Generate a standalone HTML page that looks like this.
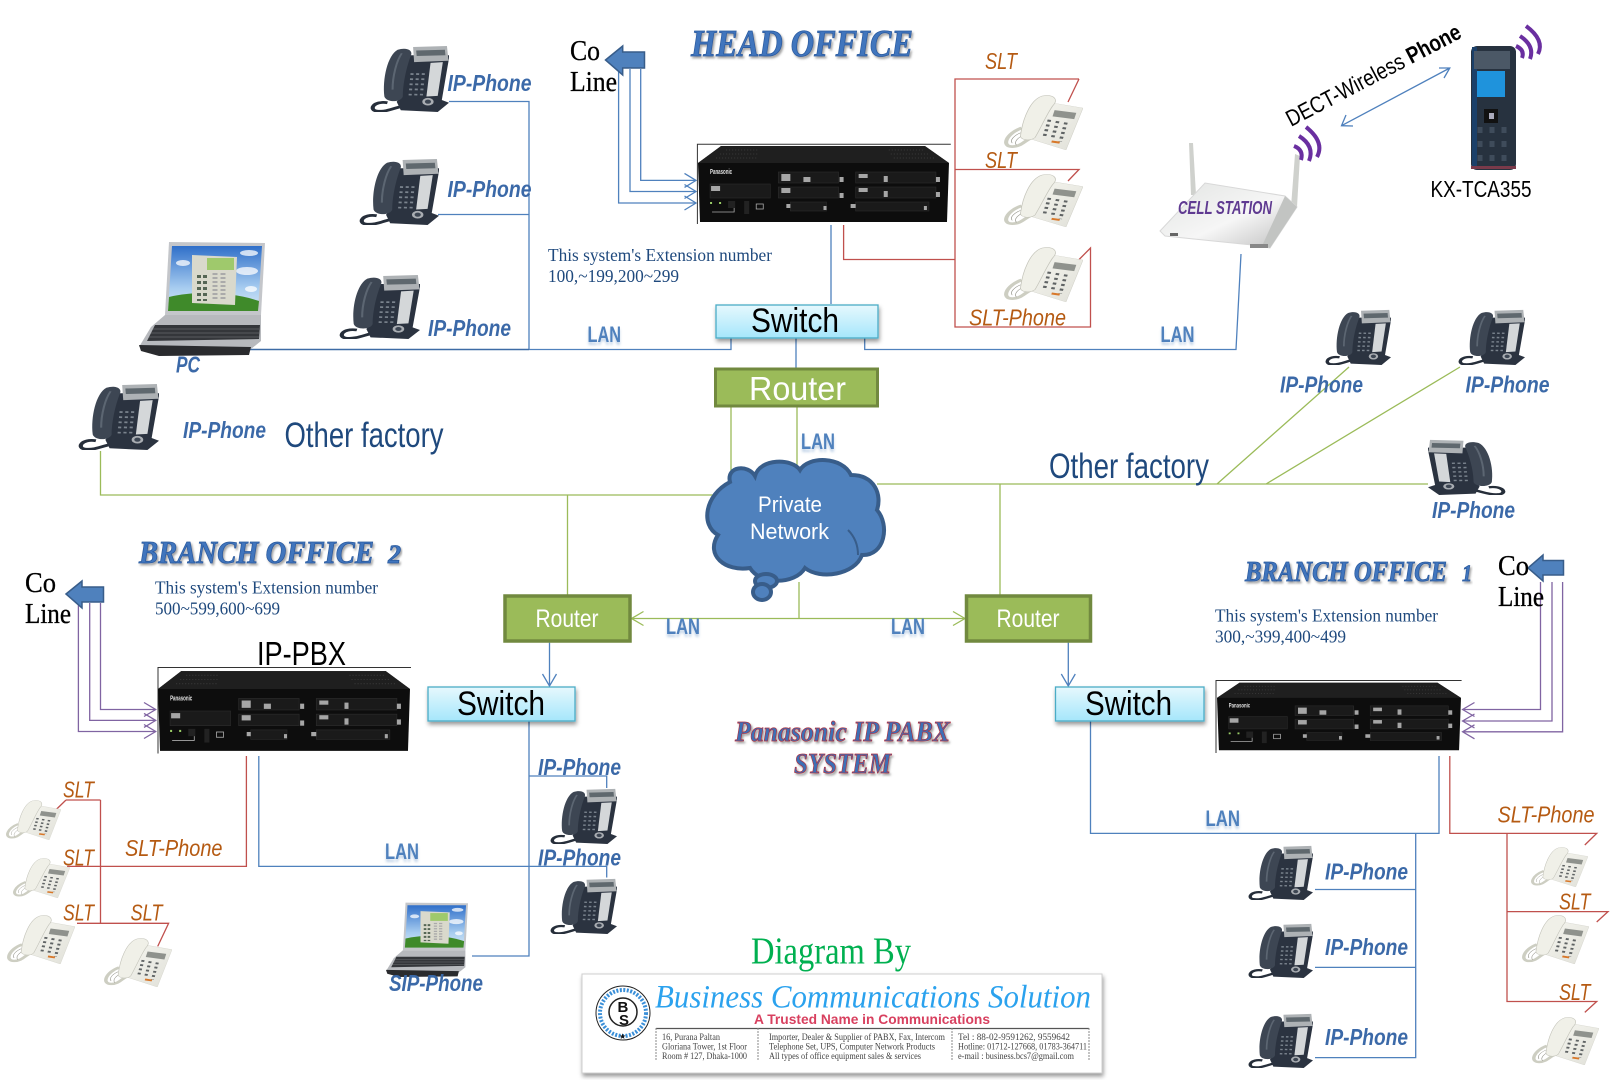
<!DOCTYPE html>
<html><head><meta charset="utf-8"><title>Panasonic IP PABX System</title>
<style>
html,body{margin:0;padding:0;background:#fff;width:1617px;height:1080px;overflow:hidden}
svg{display:block}
text{font-family:"Liberation Sans",sans-serif}
.ip{font-size:23px;font-style:italic;fill:#3b69a8;font-weight:bold}
.slt{font-size:23px;font-style:italic;fill:#b55a12}
.lan{font-size:22px;font-weight:bold;fill:#4f81bd;filter:url(#refl)}
.of{font-size:35px;fill:#1f497d}
.co{font-family:"Liberation Serif",serif;font-size:28px;fill:#000;stroke:#000;stroke-width:.3}
.ext{font-family:"Liberation Serif",serif;font-size:18px;fill:#1f497d}
.tt{font-family:"Liberation Serif",serif;font-weight:bold;font-style:italic;fill:#4175bd;stroke:#2a5a9e;stroke-width:.8;filter:url(#ds)}
.pt{font-family:"Liberation Serif",serif;font-weight:bold;font-style:italic;fill:#3d6fb5;stroke:#b03040;stroke-width:.7;filter:url(#ds)}
.sw{font-size:34px;fill:#000}
.wh{fill:#fff}
.sm{font-family:"Liberation Serif",serif;font-size:9.5px;fill:#444}
.b{fill:none;stroke:#4f81bd;stroke-width:1.3}
.r{fill:none;stroke:#c0504d;stroke-width:1.3}
.g{fill:none;stroke:#9bbb59;stroke-width:1.3}
.p{fill:none;stroke:#8064a2;stroke-width:1.3}
</style></head><body>
<svg xmlns="http://www.w3.org/2000/svg" width="1617" height="1080" viewBox="0 0 1617 1080">
<defs>
<filter id="ds" x="-10%" y="-20%" width="120%" height="150%"><feDropShadow dx="1.5" dy="2" stdDeviation="1" flood-color="#555" flood-opacity=".55"/></filter>
<filter id="refl" x="-10%" y="-20%" width="120%" height="170%"><feDropShadow dx="0" dy="3" stdDeviation="1.2" flood-color="#4f81bd" flood-opacity=".35"/></filter>
<filter id="sh" x="-10%" y="-20%" width="120%" height="150%"><feDropShadow dx="1" dy="3" stdDeviation="2" flood-color="#000" flood-opacity=".4"/></filter>
<linearGradient id="swg" x1="0" y1="0" x2="0" y2="1"><stop offset="0" stop-color="#e6f8fd"/><stop offset="1" stop-color="#a5e6fb"/></linearGradient>
<linearGradient id="sky" x1="0" y1="0" x2="0" y2="1"><stop offset="0" stop-color="#2f6fc9"/><stop offset=".65" stop-color="#a8cdf0"/><stop offset="1" stop-color="#d8e8f5"/></linearGradient>
<linearGradient id="cs" x1="0" y1="0" x2="1" y2="1"><stop offset="0" stop-color="#e2e4e2"/><stop offset=".55" stop-color="#f6f6f6"/><stop offset="1" stop-color="#bcbcbc"/></linearGradient>
<linearGradient id="whp" x1="0" y1="0" x2="1" y2="1"><stop offset="0" stop-color="#f6f6f0"/><stop offset="1" stop-color="#e0e0d8"/></linearGradient>

<symbol id="ipp" viewBox="0 0 154 195" preserveAspectRatio="none">
<path d="M34 168C6 162-2 188 12 192C28 196 44 186 58 180" fill="none" stroke="#262e3a" stroke-width="8"/>
<polygon points="70,30 155,30 140,160 154,168 132,195 60,190 52,165 60,150" fill="#2b3340"/>
<path d="M28 150C24 100 34 30 54 14C70 6 84 14 80 30C72 60 64 110 64 150C60 168 32 168 28 150Z" fill="#3d4653"/>
<path d="M44 130C44 90 52 45 62 24" fill="none" stroke="#5c6672" stroke-width="4"/>
<polygon points="84,6 150,3 153,46 86,50" fill="#aeb2b5"/>
<polygon points="90,16 146,14 147,30 91,32" fill="#5f686e"/>
<polygon points="118,52 142,50 132,148 110,150" fill="#d4d7d9"/>
<g stroke="#7b848e" stroke-width="6" stroke-dasharray="5 10" fill="none"><path d="M82 82 L78 150"/><path d="M93 82 L89 150"/><path d="M104 82 L100 150"/></g>
<circle cx="113" cy="165" r="11" fill="#a9adb2"/><circle cx="113" cy="165" r="6" fill="#3d4653"/>
</symbol>

<symbol id="slt" viewBox="0 0 153 160" preserveAspectRatio="none">
<path d="M34 96C4 112-6 150 16 150C34 150 40 132 54 124" fill="none" stroke="#cdcec2" stroke-width="8"/>
<path d="M16 140C10 130 22 116 32 110M24 146C18 134 30 122 38 116" fill="none" stroke="#8e8e84" stroke-width="1.3"/>
<polygon points="98,24 153,38 120,160 52,128" fill="url(#whp)" stroke="#cfcfc6" stroke-width="1"/>
<path d="M32 118C36 72 50 14 74 3C98-3 106 14 94 32C82 58 70 100 60 124C50 136 30 130 32 118Z" fill="#f0f0e8" stroke="#c4c4ba" stroke-width="1.5"/>
<polygon points="98,44 140,52 136,70 94,62" fill="#8f928d"/>
<g stroke="#5f6364" stroke-width="7" stroke-dasharray="6 8" fill="none"><path d="M88 72 L78 122"/><path d="M104 76 L93 130"/><path d="M120 80 L109 136"/></g>
<rect x="92" y="134" width="16" height="6" fill="#d8782a" transform="rotate(12 100 137)"/>
</symbol>

<symbol id="pbx" viewBox="0 0 250 80" preserveAspectRatio="none">
<polygon points="0,19 23,2 226,2 250,19 248,78 2,78" fill="#0d0d0d"/>
<polygon points="0,19 23,2 226,2 250,19" fill="#1f1f1f"/>
<g fill="none" stroke="#3a3a3a" stroke-width="1" stroke-dasharray="1 2"><path d="M28 6H60M22 10H60M18 14H60M190 6H224M192 10H230M195 14H236"/></g>
<g fill="#1a1a1a" stroke="#2c2c2c" stroke-width=".6">
<rect x="12" y="40" width="60" height="14"/><rect x="80" y="28" width="60" height="11"/><rect x="80" y="43" width="60" height="11"/>
<rect x="157" y="28" width="80" height="11"/><rect x="157" y="43" width="80" height="11"/>
<rect x="92" y="58" width="36" height="9"/><rect x="157" y="58" width="73" height="9"/></g>
<g fill="#a6a6a6"><rect x="13" y="42" width="9" height="5"/><rect x="83" y="30" width="9" height="7"/><rect x="83" y="44" width="9" height="5"/><rect x="160" y="30" width="9" height="4"/><rect x="160" y="44" width="9" height="4"/><rect x="105" y="33" width="7" height="5"/><rect x="185" y="32" width="4" height="6"/><rect x="185" y="47" width="4" height="6"/><rect x="141" y="33" width="4" height="5"/><rect x="141" y="49" width="4" height="5"/><rect x="237" y="33" width="4" height="5"/><rect x="237" y="48" width="4" height="5"/><rect x="125" y="62" width="3" height="4"/><rect x="88" y="60" width="4" height="4"/><rect x="152" y="60" width="5" height="4"/><rect x="225" y="62" width="3" height="4"/></g>
<text x="12" y="30" font-size="7" font-weight="bold" fill="#e0e0e0" textLength="22" lengthAdjust="spacingAndGlyphs">Panasonic</text>
<g fill="none" stroke="#aaa" stroke-width=".8"><rect x="58" y="60" width="7" height="5"/><path d="M14 68H36V60"/></g>
<rect x="12" y="58" width="2" height="2" fill="#9c6"/><rect x="21" y="58" width="2" height="2" fill="#9c6"/>
<rect x="30" y="57" width="7" height="7" fill="#222"/><rect x="46" y="57" width="5" height="13" fill="#222"/>
</symbol>

<symbol id="lap" viewBox="0 0 126 115" preserveAspectRatio="none">
<polygon points="30,1 126,2 122,74 26,74" fill="#c4c6ca"/>
<polygon points="33,5 123,5 119,70 29,70" fill="url(#sky)"/>
<g fill="#fff" opacity=".75"><ellipse cx="110" cy="12" rx="9" ry="3"/><ellipse cx="108" cy="30" rx="11" ry="4"/><ellipse cx="44" cy="22" rx="7" ry="3"/><ellipse cx="112" cy="48" rx="6" ry="3"/></g>
<path d="M29 70L30 56C55 50 90 50 120 60L119 70Z" fill="#3f8a2a"/>
<polygon points="53,14 98,16 96,64 53,62" fill="#d9d9cc"/>
<rect x="68" y="17" width="27" height="12" fill="#9fc96c"/>
<g fill="none" stroke="#565" stroke-width="4" stroke-dasharray="3 3"><path d="M60 34V60"/><path d="M66 34V60"/></g>
<g fill="none" stroke="#aaa" stroke-width="5" stroke-dasharray="2 2"><path d="M76 32V60"/><path d="M84 32V60"/></g>
<polygon points="26,74 122,74 122,100 112,108 0,106 12,86" fill="#b7b9bd"/>
<polygon points="16,84 121,84 120,98 8,100" fill="#34363a"/>
<g stroke="#7b7d82" stroke-width=".6"><path d="M14 88H120M12 92H120M10 96H120"/></g>
<polygon points="0,104 112,106 110,114 20,115 2,110" fill="#2a2b2e"/>
</symbol>

<symbol id="hand" viewBox="0 0 47 125" preserveAspectRatio="none">
<rect x="1" y="1" width="45" height="124" rx="6" fill="#27323f"/>
<rect x="2" y="2" width="5" height="122" fill="#1b4069"/>
<rect x="4" y="6" width="36" height="18" fill="#4b5866"/>
<rect x="7" y="26" width="28" height="26" fill="#1f93dc"/>
<rect x="14" y="64" width="14" height="14" fill="#111"/><rect x="19" y="68" width="5" height="6" fill="#aab"/>
<g stroke="#3f4c5b" stroke-width="5" stroke-dasharray="6 8" fill="none"><path d="M10 82V122"/><path d="M22 82V122"/><path d="M34 82V122"/></g>
<rect x="1" y="121" width="45" height="3" fill="#7a3a4a"/>
</symbol>
</defs>

<rect width="1617" height="1080" fill="#fff"/>

<!-- Head office connectors -->
<path class="b" d="M449 101.5H529V349.5M438 214.5H529"/>
<path d="M250 349.5H529" fill="none" stroke="#3d6ba5" stroke-width="1.5"/>
<path class="b" d="M529 349.5H731V338M796 338V368M831 225V304M864.7 338V349.5H1236L1241 254"/>
<path class="b" d="M640.7 69V180.4H696M630 69V191.5H696M618.6 69V203H696"/>
<path class="b" d="M684.5 173.4L696 180.4L684.5 187.4M684.5 184.5L696 191.5L684.5 198.5M684.5 196L696 203L684.5 210"/>
<path class="r" d="M1079 79H955V327H1090.5V248L1078.6 260M1079 79L1068 102M955 169.5H1079L1068 181M843.6 225V259.5H955"/>
<path class="b" d="M1341.5 125.7L1449.8 68M1346 115L1341.5 125.7L1353 126M1439 68L1449.8 68L1444 78"/>

<!-- Green network -->
<path class="g" d="M100.5 451V495H719M567.5 495V597M731 407V485M797 407V468M877 484H1428M1000 484V594.5M1217 484L1349 367M1266 484L1460 367"/>
<path class="g" d="M631.5 618.5H965M799 582V618.5M643.5 611.5L631.5 618.5L643.5 625.5M953 611.5L965 618.5L953 625.5" stroke-width="1.6"/>
<path class="b" d="M549.5 642.6V686M542.5 674L549.5 686L556.5 674M1068.3 642.6V686M1061.3 674L1068.3 686L1075.3 674"/>

<!-- Branch 2 connectors -->
<path class="p" d="M100.5 603V709.5H155.7M89.7 603V720.4H155.7M78.4 603V731.5H155.7"/>
<path class="p" d="M144 702.5L155.7 709.5L144 716.5M144 713.4L155.7 720.4L144 727.4M144 724.5L155.7 731.5L144 738.5"/>
<path class="r" d="M246.4 756V866.4H67M100.5 800V923.3M66 800H100.5M66 800L55.7 810M77 923.3H168.6L157.7 946.4"/>
<path class="b" d="M258.8 756V866.4H606.7V877.5M529 721V956H472M529 776H606.7V788"/>

<!-- Branch 1 connectors -->
<path class="p" d="M1540.5 582V709.5H1462.6M1552 582V721H1462.6M1562.6 582V731.8H1462.6"/>
<path class="p" d="M1474.5 702.5L1462.6 709.5L1474.5 716.5M1474.5 714L1462.6 721L1474.5 728M1474.5 724.8L1462.6 731.8L1474.5 738.8"/>
<path class="b" d="M1090.5 721V833.4H1439V756M1415.7 833.4V1057.6H1315M1315 889.5H1415.7M1315 967.4H1415.7"/>
<path class="r" d="M1449.8 756V833.4H1596.7L1584.8 845M1507 833.4V1001.5H1596.7L1584.8 1012.4M1507 911.6H1608L1596.7 922"/>

<!-- Devices -->
<use href="#ipp" x="370" y="45" width="79" height="67"/>
<use href="#ipp" x="359" y="158" width="80" height="67"/>
<use href="#ipp" x="339" y="274" width="81" height="65"/>
<use href="#ipp" x="78" y="383" width="81" height="67"/>
<use href="#ipp" x="1325" y="309" width="66" height="56"/>
<use href="#ipp" x="1458" y="309" width="67" height="56"/>
<use href="#ipp" transform="translate(1506 439) scale(-1 1)" width="78" height="56"/>
<use href="#ipp" x="550" y="788" width="67" height="56"/>
<use href="#ipp" x="550" y="878" width="67" height="56"/>
<use href="#ipp" x="1248" y="845" width="65" height="55"/>
<use href="#ipp" x="1248" y="923" width="65" height="55"/>
<use href="#ipp" x="1248" y="1013" width="65" height="55"/>

<use href="#slt" x="1004" y="95" width="79" height="55"/>
<use href="#slt" x="1004" y="174" width="79" height="53"/>
<use href="#slt" x="1004" y="247" width="79" height="55"/>
<use href="#slt" x="6" y="800" width="55" height="40"/>
<use href="#slt" x="13" y="858" width="57" height="40"/>
<use href="#slt" x="7" y="915" width="68" height="49"/>
<use href="#slt" x="104" y="938" width="68" height="49"/>
<use href="#slt" x="1531" y="847" width="57" height="40"/>
<use href="#slt" x="1522" y="915" width="67" height="49"/>
<use href="#slt" x="1532" y="1017" width="67" height="48"/>

<use href="#lap" x="139" y="241" width="126" height="115"/>
<use href="#lap" x="386" y="902" width="82" height="75"/>

<!-- PBX units -->
<path d="M697.4 224V144.3H950.8" fill="none" stroke="#333" stroke-width="1"/>
<use href="#pbx" x="698" y="144" width="251" height="80"/>
<path d="M158 753.5V667.5H411" fill="none" stroke="#333" stroke-width="1"/>
<use href="#pbx" x="158" y="669" width="252" height="84"/>
<path d="M1216 753V680.5H1461.6" fill="none" stroke="#333" stroke-width="1"/>
<use href="#pbx" x="1217" y="681" width="244" height="71"/>

<!-- Cell station -->
<g>
<polygon points="1189,143 1193,143 1196,195 1191,195" fill="#cfd1cd"/>
<polygon points="1295,154 1300,156 1297,207 1291,207" fill="#cfd1cd"/>
<polygon points="1160,231 1205,183 1285,196 1297,207 1270,248 1252,245 1165,236" fill="url(#cs)" stroke="#d8d8d8" stroke-width="1"/>
<polygon points="1285,196 1297,207 1270,248 1262,246" fill="#c2c4c2"/>
<rect x="1170" y="233" width="8" height="3" fill="#666"/><rect x="1250" y="244" width="18" height="4" fill="#888"/>
<text x="1178" y="214" font-size="18" font-weight="bold" font-style="italic" fill="#5f3a91" textLength="94" lengthAdjust="spacingAndGlyphs">CELL STATION</text>
</g>
<use href="#hand" x="1470" y="45" width="47" height="125"/>
<g fill="none" stroke="#6a2fa0" stroke-width="4">
<path d="M1294 146Q1304 150 1301 160"/><path d="M1299 136Q1315 146 1309 161"/><path d="M1306 127Q1325 142 1317 157"/>
<path d="M1516 46Q1525 50 1522 58"/><path d="M1520 36Q1535 46 1530 59"/><path d="M1526 26Q1545 40 1538 54"/>
</g>

<!-- Switches and routers -->
<g filter="url(#sh)"><rect x="716" y="305" width="162" height="33" fill="url(#swg)" stroke="#4bacc6" stroke-width="1.3"/></g>
<text class="sw" x="751" y="332" textLength="88" lengthAdjust="spacingAndGlyphs">Switch</text>
<g filter="url(#sh)"><rect x="428" y="687" width="147" height="34" fill="url(#swg)" stroke="#4bacc6" stroke-width="1.3"/></g>
<text class="sw" x="457" y="715" textLength="88" lengthAdjust="spacingAndGlyphs">Switch</text>
<g filter="url(#sh)"><rect x="1055.5" y="687" width="148.5" height="34" fill="url(#swg)" stroke="#4bacc6" stroke-width="1.3"/></g>
<text class="sw" x="1085" y="715" textLength="87" lengthAdjust="spacingAndGlyphs">Switch</text>

<rect x="715.5" y="369" width="162" height="37" fill="#9bbb59" stroke="#71893f" stroke-width="3"/>
<text class="wh" x="749" y="400" font-size="33" textLength="97" lengthAdjust="spacingAndGlyphs">Router</text>
<rect x="505" y="596" width="125" height="45" fill="#9bbb59" stroke="#71893f" stroke-width="3.5"/>
<text class="wh" x="535.5" y="627" font-size="25" textLength="63" lengthAdjust="spacingAndGlyphs">Router</text>
<rect x="966.5" y="596" width="124" height="45" fill="#9bbb59" stroke="#71893f" stroke-width="3.5"/>
<text class="wh" x="996.5" y="627" font-size="25" textLength="63" lengthAdjust="spacingAndGlyphs">Router</text>

<!-- Cloud -->
<g fill="#4f81bd" stroke="#385d8a" stroke-width="4">
<path d="M730 482C726 466 748 464 755 476C760 458 792 458 800 470C808 456 842 456 851 475C875 475 882 495 877 510C890 525 885 556 862 555C855 575 820 580 805 568C795 585 760 585 750 568C725 572 705 555 718 535C700 525 705 495 730 482Z"/>
<ellipse cx="766" cy="581" rx="11" ry="7"/><ellipse cx="762" cy="592" rx="9" ry="8"/>
</g>
<path d="M848 530Q858 540 858 555" fill="none" stroke="#385d8a" stroke-width="2"/>
<text class="wh" x="758" y="512" font-size="22" textLength="64" lengthAdjust="spacingAndGlyphs">Private</text>
<text class="wh" x="750" y="539" font-size="22" textLength="79" lengthAdjust="spacingAndGlyphs">Network</text>

<!-- Co-line arrows -->
<polygon points="605.5,60 622.7,46 622.7,52 644.5,52 644.5,68 622.7,68 622.7,75" fill="#4f81bd" stroke="#385d8a" stroke-width="1.5"/>
<polygon points="66,594 82,581 82,587 103.5,587 103.5,602 82,602 82,608" fill="#4f81bd" stroke="#385d8a" stroke-width="1.5"/>
<polygon points="1528,568 1543,555 1543,560.5 1563.5,560.5 1563.5,575 1543,575 1543,581" fill="#4f81bd" stroke="#385d8a" stroke-width="1.5"/>

<!-- Labels -->
<text class="tt" x="691" y="56" font-size="38" textLength="222" lengthAdjust="spacingAndGlyphs">HEAD OFFICE</text>
<text class="tt" x="139" y="563" font-size="32" textLength="235" lengthAdjust="spacingAndGlyphs">BRANCH OFFICE</text>
<text class="tt" x="388" y="563" font-size="26" textLength="13" lengthAdjust="spacingAndGlyphs">2</text>
<text class="tt" x="1245" y="581" font-size="28" textLength="202" lengthAdjust="spacingAndGlyphs">BRANCH OFFICE</text>
<text class="tt" x="1462" y="581" font-size="23" textLength="10" lengthAdjust="spacingAndGlyphs">1</text>
<text class="pt" x="735" y="741" font-size="28" textLength="215" lengthAdjust="spacingAndGlyphs">Panasonic IP PABX</text>
<text class="pt" x="794" y="773" font-size="28" textLength="97" lengthAdjust="spacingAndGlyphs">SYSTEM</text>

<text class="co" x="570" y="60" textLength="30" lengthAdjust="spacingAndGlyphs">Co</text>
<text class="co" x="570" y="91" textLength="47" lengthAdjust="spacingAndGlyphs">Line</text>
<text class="co" x="25" y="592" textLength="31" lengthAdjust="spacingAndGlyphs">Co</text>
<text class="co" x="25" y="623" textLength="46" lengthAdjust="spacingAndGlyphs">Line</text>
<text class="co" x="1498" y="575" textLength="31" lengthAdjust="spacingAndGlyphs">Co</text>
<text class="co" x="1498" y="606" textLength="46" lengthAdjust="spacingAndGlyphs">Line</text>

<text class="ext" x="548" y="261" textLength="224" lengthAdjust="spacingAndGlyphs">This system's Extension number</text>
<text class="ext" x="548" y="282" textLength="131" lengthAdjust="spacingAndGlyphs">100,~199,200~299</text>
<text class="ext" x="155" y="593.5" textLength="223" lengthAdjust="spacingAndGlyphs">This system's Extension number</text>
<text class="ext" x="155" y="614.5" textLength="125" lengthAdjust="spacingAndGlyphs">500~599,600~699</text>
<text class="ext" x="1215" y="621.5" textLength="223" lengthAdjust="spacingAndGlyphs">This system's Extension number</text>
<text class="ext" x="1215" y="642.5" textLength="131" lengthAdjust="spacingAndGlyphs">300,~399,400~499</text>

<text class="ip" x="447.5" y="91" textLength="84" lengthAdjust="spacingAndGlyphs">IP-Phone</text>
<text class="ip" x="447.5" y="197" textLength="84" lengthAdjust="spacingAndGlyphs">IP-Phone</text>
<text class="ip" x="428" y="336" textLength="83" lengthAdjust="spacingAndGlyphs">IP-Phone</text>
<text class="ip" x="183" y="438" textLength="83" lengthAdjust="spacingAndGlyphs">IP-Phone</text>
<text class="ip" x="176" y="372.5" textLength="24" lengthAdjust="spacingAndGlyphs">PC</text>
<text class="ip" x="1280" y="392.5" textLength="83" lengthAdjust="spacingAndGlyphs">IP-Phone</text>
<text class="ip" x="1465.5" y="392.5" textLength="84" lengthAdjust="spacingAndGlyphs">IP-Phone</text>
<text class="ip" x="1432" y="518" textLength="83" lengthAdjust="spacingAndGlyphs">IP-Phone</text>
<text class="ip" x="538" y="775" textLength="83" lengthAdjust="spacingAndGlyphs">IP-Phone</text>
<text class="ip" x="538" y="865.5" textLength="83" lengthAdjust="spacingAndGlyphs">IP-Phone</text>
<text class="ip" x="389" y="991" textLength="94" lengthAdjust="spacingAndGlyphs">SIP-Phone</text>
<text class="ip" x="1325" y="879.5" textLength="83" lengthAdjust="spacingAndGlyphs">IP-Phone</text>
<text class="ip" x="1325" y="955" textLength="83" lengthAdjust="spacingAndGlyphs">IP-Phone</text>
<text class="ip" x="1325" y="1045" textLength="83" lengthAdjust="spacingAndGlyphs">IP-Phone</text>

<text class="of" x="284.5" y="447" textLength="159" lengthAdjust="spacingAndGlyphs">Other factory</text>
<text class="of" x="1049" y="478" textLength="160" lengthAdjust="spacingAndGlyphs">Other factory</text>

<text class="lan" x="587.5" y="342" textLength="33.5" lengthAdjust="spacingAndGlyphs">LAN</text>
<text class="lan" x="1160.5" y="342" textLength="34" lengthAdjust="spacingAndGlyphs">LAN</text>
<text class="lan" x="801" y="449" textLength="34" lengthAdjust="spacingAndGlyphs">LAN</text>
<text class="lan" x="666" y="634" textLength="34" lengthAdjust="spacingAndGlyphs">LAN</text>
<text class="lan" x="891" y="634" textLength="34" lengthAdjust="spacingAndGlyphs">LAN</text>
<text class="lan" x="385" y="859" textLength="34" lengthAdjust="spacingAndGlyphs">LAN</text>
<text class="lan" x="1205.5" y="826" textLength="34.5" lengthAdjust="spacingAndGlyphs">LAN</text>

<text class="slt" x="985" y="69" textLength="32" lengthAdjust="spacingAndGlyphs">SLT</text>
<text class="slt" x="985" y="168" textLength="32" lengthAdjust="spacingAndGlyphs">SLT</text>
<text class="slt" x="969" y="325.5" textLength="97" lengthAdjust="spacingAndGlyphs">SLT-Phone</text>
<text class="slt" x="63" y="797.5" textLength="31" lengthAdjust="spacingAndGlyphs">SLT</text>
<text class="slt" x="63" y="865.5" textLength="31" lengthAdjust="spacingAndGlyphs">SLT</text>
<text class="slt" x="63" y="920.5" textLength="31" lengthAdjust="spacingAndGlyphs">SLT</text>
<text class="slt" x="130.5" y="920.5" textLength="32" lengthAdjust="spacingAndGlyphs">SLT</text>
<text class="slt" x="125" y="856" textLength="97.5" lengthAdjust="spacingAndGlyphs">SLT-Phone</text>
<text class="slt" x="1497.5" y="822.5" textLength="97" lengthAdjust="spacingAndGlyphs">SLT-Phone</text>
<text class="slt" x="1559" y="909.5" textLength="31.5" lengthAdjust="spacingAndGlyphs">SLT</text>
<text class="slt" x="1559" y="1000" textLength="31.5" lengthAdjust="spacingAndGlyphs">SLT</text>

<text x="257" y="665" font-size="33" fill="#000" textLength="89" lengthAdjust="spacingAndGlyphs">IP-PBX</text>
<text x="1430.5" y="197" font-size="23" fill="#000" textLength="101" lengthAdjust="spacingAndGlyphs">KX-TCA355</text>
<text transform="translate(1291 127) rotate(-27.6)" font-size="23" fill="#000" textLength="194" lengthAdjust="spacingAndGlyphs">DECT-Wireless <tspan font-weight="bold">Phone</tspan></text>

<!-- Diagram By card -->
<text x="751" y="963.5" font-size="38" fill="#00b050" style="font-family:'Liberation Serif',serif" textLength="160" lengthAdjust="spacingAndGlyphs">Diagram By</text>
<g filter="url(#sh)"><rect x="582" y="974" width="520" height="99" fill="#fff" stroke="#cfcfcf" stroke-width="1"/></g>
<circle cx="623" cy="1013" r="27" fill="#fff" stroke="#222" stroke-width="1"/>
<circle cx="623" cy="1013" r="23" fill="none" stroke="#3a8fd8" stroke-width="4" stroke-dasharray="2 1.5"/>
<circle cx="623" cy="1012" r="14" fill="#fff" stroke="#222" stroke-width="1.5"/>
<text x="617.5" y="1012" font-size="15" font-weight="bold" fill="#111">B</text>
<text x="619" y="1025" font-size="15" font-weight="bold" fill="#111">S</text>
<text x="619" y="1039" font-size="8" fill="#111">★</text>
<text x="655" y="1007.5" style="font-family:'Liberation Serif',serif" font-style="italic" font-size="33" fill="#2ba2ee" textLength="436" lengthAdjust="spacingAndGlyphs">Business Communications Solution</text>
<text x="754" y="1024" font-size="14" font-weight="bold" fill="#d8405f" textLength="236" lengthAdjust="spacingAndGlyphs">A Trusted Name in Communications</text>
<path d="M656 1028.5H1089" stroke="#555" stroke-width="1.2"/>
<path d="M656 1028V1061M758 1028V1061M952 1028V1061M1089 1028V1061" stroke="#888" stroke-width="1" stroke-dasharray="2 1"/>
<text class="sm" x="662" y="1040" textLength="58" lengthAdjust="spacingAndGlyphs">16, Purana Paltan</text>
<text class="sm" x="662" y="1049.5" textLength="85" lengthAdjust="spacingAndGlyphs">Gloriana Tower, 1st Floor</text>
<text class="sm" x="662" y="1059" textLength="85" lengthAdjust="spacingAndGlyphs">Room # 127, Dhaka-1000</text>
<text class="sm" x="769" y="1040" textLength="176" lengthAdjust="spacingAndGlyphs">Importer, Dealer &amp; Supplier of PABX, Fax, Intercom</text>
<text class="sm" x="769" y="1049.5" textLength="166" lengthAdjust="spacingAndGlyphs">Telephone Set, UPS, Computer Network Products</text>
<text class="sm" x="769" y="1059" textLength="152" lengthAdjust="spacingAndGlyphs">All types of office equipment sales &amp; services</text>
<text class="sm" x="958" y="1040" textLength="112" lengthAdjust="spacingAndGlyphs">Tel     : 88-02-9591262, 9559642</text>
<text class="sm" x="958" y="1049.5" textLength="129" lengthAdjust="spacingAndGlyphs">Hotline: 01712-127668, 01783-364711</text>
<text class="sm" x="958" y="1059" textLength="116" lengthAdjust="spacingAndGlyphs">e-mail  : business.bcs7@gmail.com</text>
</svg>
</body></html>
